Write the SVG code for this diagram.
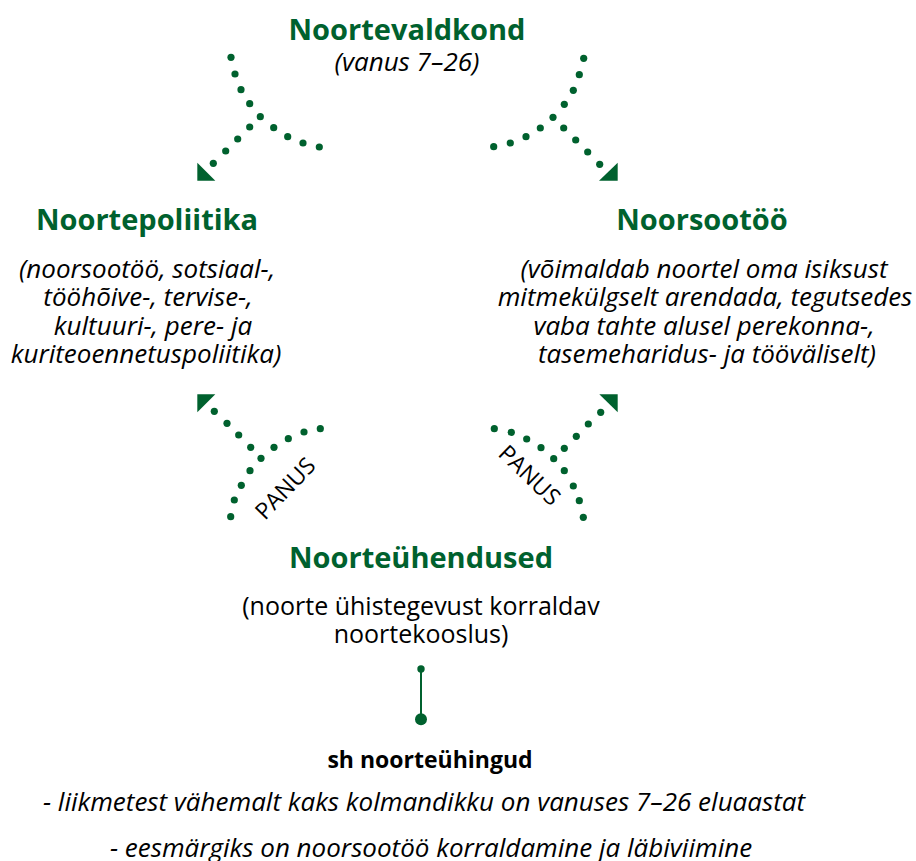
<svg xmlns="http://www.w3.org/2000/svg" width="916" height="861" viewBox="0 0 916 861">
<style>
.t{font-family:"Open Sans","Noto Sans",sans-serif;font-weight:bold;fill:#00612e;font-size:29px;text-anchor:middle}
.i{font-family:"Open Sans","Noto Sans",sans-serif;font-style:italic;fill:#000;font-size:26px;text-anchor:middle}
.r{font-family:"Open Sans","Noto Sans",sans-serif;fill:#000;font-size:25px;text-anchor:middle}
.b{font-family:"Open Sans","Noto Sans",sans-serif;font-weight:bold;fill:#000;font-size:23px;text-anchor:middle}
.p{font-family:"Open Sans","Noto Sans",sans-serif;fill:#000;font-size:23px;text-anchor:middle}
.d{fill:#00612e}
.a{fill:#00612e}
</style>
<rect width="916" height="861" fill="#fff"/>
<g id="connectors">
  <g id="c-tl">
    <circle class="d" r="3.6" cx="231" cy="57.3"/><circle class="d" r="3.6" cx="235" cy="74"/><circle class="d" r="3.6" cx="241" cy="89.7"/><circle class="d" r="3.6" cx="249.7" cy="103.7"/><circle class="d" r="3.6" cx="260.3" cy="116.7"/><circle class="d" r="3.6" cx="273.7" cy="127.7"/><circle class="d" r="3.6" cx="287.7" cy="136.7"/><circle class="d" r="3.6" cx="303" cy="143"/><circle class="d" r="3.6" cx="319.3" cy="147"/>
    <circle class="d" r="3.6" cx="249.7" cy="127"/><circle class="d" r="3.6" cx="237.7" cy="139"/><circle class="d" r="3.6" cx="225.7" cy="151"/><circle class="d" r="3.6" cx="213.3" cy="163.3"/>
    <polygon class="a" points="197.3,162.7 197.3,180.7 215.3,180.7"/>
  </g>
  <g id="c-tr">
    <circle class="d" r="3.6" cx="583.7" cy="58.3"/><circle class="d" r="3.6" cx="579.3" cy="74.7"/><circle class="d" r="3.6" cx="573.3" cy="90.3"/><circle class="d" r="3.6" cx="564.3" cy="104.3"/><circle class="d" r="3.6" cx="553" cy="117.3"/><circle class="d" r="3.6" cx="540.3" cy="128"/><circle class="d" r="3.6" cx="526" cy="136.7"/><circle class="d" r="3.6" cx="510.3" cy="143"/><circle class="d" r="3.6" cx="493.7" cy="146.7"/>
    <circle class="d" r="3.6" cx="563.7" cy="128"/><circle class="d" r="3.6" cx="575.7" cy="140"/><circle class="d" r="3.6" cx="587.7" cy="152"/><circle class="d" r="3.6" cx="599.7" cy="164.3"/>
    <polygon class="a" points="617.7,162.7 617.7,180.7 599,180.7"/>
  </g>
  <g id="c-bl">
    <circle class="d" r="3.6" cx="320.3" cy="428.7"/><circle class="d" r="3.6" cx="304" cy="432"/><circle class="d" r="3.6" cx="288.3" cy="438.7"/><circle class="d" r="3.6" cx="274" cy="447.3"/><circle class="d" r="3.6" cx="261" cy="458.3"/><circle class="d" r="3.6" cx="250" cy="470.7"/><circle class="d" r="3.6" cx="241.3" cy="485.3"/><circle class="d" r="3.6" cx="234.3" cy="500"/><circle class="d" r="3.6" cx="230.7" cy="516.7"/>
    <circle class="d" r="3.6" cx="214.3" cy="411.3"/><circle class="d" r="3.6" cx="227" cy="423.3"/><circle class="d" r="3.6" cx="238.7" cy="435"/><circle class="d" r="3.6" cx="250.7" cy="447.3"/>
    <polygon class="a" points="197.3,394.3 215.3,394.3 197.3,412.3"/>
    <text class="p" transform="translate(291,494) rotate(-46)">PANUS</text>
  </g>
  <g id="c-br">
    <circle class="d" r="3.6" cx="494.3" cy="428.7"/><circle class="d" r="3.6" cx="511.3" cy="432.3"/><circle class="d" r="3.6" cx="526.7" cy="439"/><circle class="d" r="3.6" cx="541" cy="447.7"/><circle class="d" r="3.6" cx="553.7" cy="458.7"/><circle class="d" r="3.6" cx="564.3" cy="470.7"/><circle class="d" r="3.6" cx="573.3" cy="486"/><circle class="d" r="3.6" cx="579.3" cy="500.7"/><circle class="d" r="3.6" cx="583.3" cy="517.3"/>
    <circle class="d" r="3.6" cx="600.7" cy="412.3"/><circle class="d" r="3.6" cx="588.3" cy="424"/><circle class="d" r="3.6" cx="576.3" cy="436.3"/><circle class="d" r="3.6" cx="564.3" cy="448.3"/>
    <polygon class="a" points="599.3,394.3 617.7,394.3 617.7,412.3"/>
    <text class="p" transform="translate(524,481) rotate(44)">PANUS</text>
  </g>
  <g id="c-bottom">
    <line x1="421" y1="669" x2="421" y2="719" stroke="#00612e" stroke-width="2"/>
    <circle class="d" cx="421" cy="669" r="3.7"/>
    <circle class="d" cx="421" cy="719.3" r="6"/>
  </g>
</g>
<g id="noortevaldkond">
  <text class="t" x="407" y="40">Noortevaldkond</text>
  <text class="i" x="407" y="71">(vanus 7–26)</text>
</g>
<g id="noortepoliitika">
  <text class="t" x="147" y="230">Noortepoliitika</text>
  <text class="i" x="147" y="278">(noorsootöö, sotsiaal-,</text>
  <text class="i" x="148" y="306">tööhõive-, tervise-,</text>
  <text class="i" x="153" y="335">kultuuri-, pere- ja</text>
  <text class="i" x="146" y="363">kuriteoennetuspoliitika)</text>
</g>
<g id="noorsootoo">
  <text class="t" x="702" y="230">Noorsootöö</text>
  <text class="i" x="704" y="278">(võimaldab noortel oma isiksust</text>
  <text class="i" x="705" y="306">mitmekülgselt arendada, tegutsedes</text>
  <text class="i" x="704" y="335">vaba tahte alusel perekonna-,</text>
  <text class="i" x="707" y="363">tasemeharidus- ja tööväliselt)</text>
</g>
<g id="noorteyhendused">
  <text class="t" x="421" y="568">Noorteühendused</text>
  <text class="r" x="421" y="615">(noorte ühistegevust korraldav</text>
  <text class="r" x="421" y="643">noortekooslus)</text>
</g>
<g id="noorteyhingud">
  <text class="b" x="430" y="768">sh noorteühingud</text>
  <text class="i" x="424" y="811">- liikmetest vähemalt kaks kolmandikku on vanuses 7–26 eluaastat</text>
  <text class="i" x="431" y="857">- eesmärgiks on noorsootöö korraldamine ja läbiviimine</text>
</g>
</svg>
